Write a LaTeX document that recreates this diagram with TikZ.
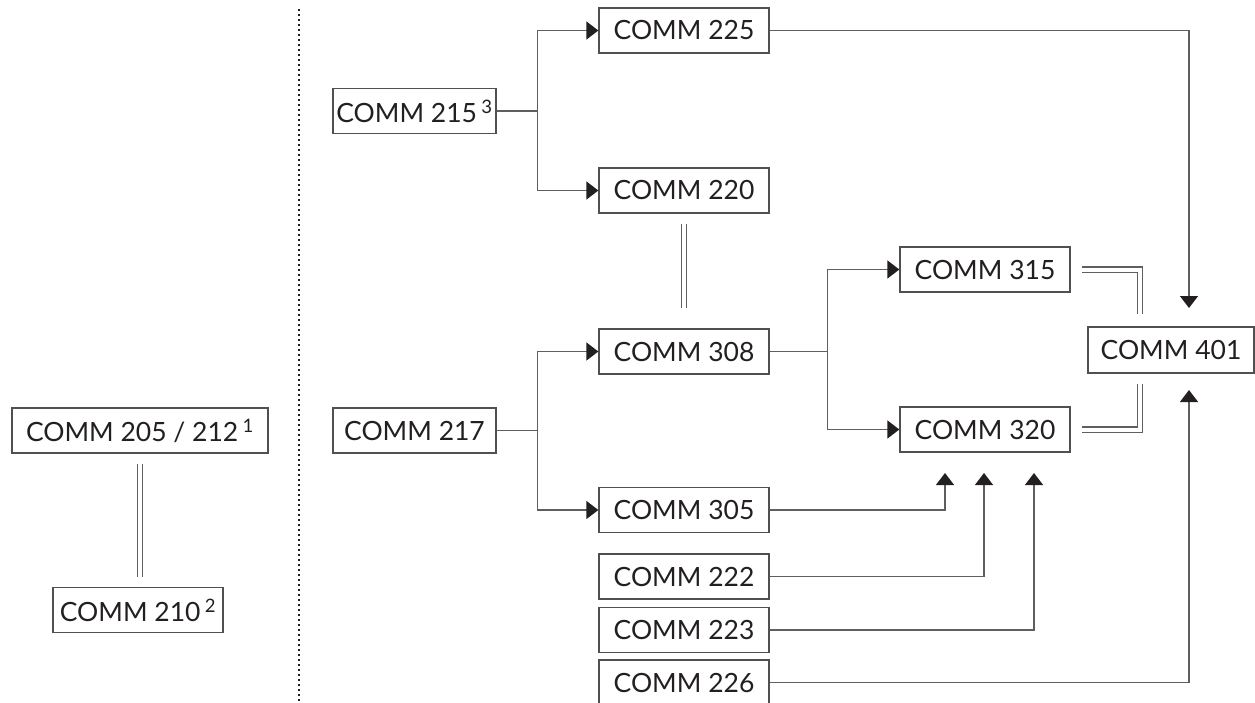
\documentclass[tikz,border=0pt]{standalone}
\usepackage{fontspec}
\setmainfont{Lato}
\usetikzlibrary{arrows.meta, positioning, calc}
\definecolor{boxgray}{RGB}{80,80,80}
\definecolor{linegray}{RGB}{95,95,95}
\definecolor{inkblack}{RGB}{35,31,32}

\begin{document}
\begin{tikzpicture}[x=1pt, y=-1pt,
    course/.style={draw=boxgray, line width=1.3pt, rectangle, minimum width=170pt,
      minimum height=45pt, inner sep=0pt, text=inkblack, font=\fontsize{26.5}{30}\selectfont},
    link/.style={draw=linegray, line width=1.3pt,
      -{Triangle[length=12pt, width=18pt, color=inkblack]}},
    twin/.style={draw=linegray, line width=1.1pt, double, double distance=4pt},
    divider/.style={draw=inkblack, line width=2.6pt, dash pattern=on 2.4pt off 2.6pt}]
  \useasboundingbox (0,0) rectangle (1255,702);
  \clip (0,0) rectangle (1255,702);

  % Left column
  \node[course, minimum width=256pt] (c205) at (140, 430.5) {COMM 205 / 212\,\textsuperscript{1}};
  \node[course] (c210) at (138, 610) {COMM 210\,\textsuperscript{2}};
  \draw[twin, shorten <=10pt, shorten >=10pt] (c205.south) -- (c205.south |- c210.north);

  % Divider
  \coordinate (divtop) at (299, 9);
  \coordinate (divbot) at (299, 702);
  \draw[divider] (divtop) -- (divbot);

  % Entry courses
  \node[course, minimum width=163pt] (c215) at (414.5, 111) {COMM 215\,\textsuperscript{3}};
  \node[course, minimum width=163pt] (c217) at (414.5, 430.5) {COMM 217};

  % Second column
  \node[course] (c225) at (684, 30.5) {COMM 225};
  \node[course] (c220) at (684, 190.5) {COMM 220};
  \node[course] (c308) at (684, 351.5) {COMM 308};
  \node[course] (c305) at (684, 510) {COMM 305};
  \node[course] (c222) at (684, 576.5) {COMM 222};
  \node[course] (c223) at (684, 630) {COMM 223};
  \node[course] (c226) at (684, 682.5) {COMM 226};

  % Third column
  \node[course] (c315) at (985, 269.5) {COMM 315};
  \node[course] (c320) at (985, 429.5) {COMM 320};
  \node[course, minimum width=166pt, minimum height=46pt] (c401) at (1171, 350) {COMM 401};

  % Branches
  \draw[link] (c215.east) -- ++(41,0) |- (c225);
  \draw[link] (c215.east) -- ++(41,0) |- (c220);
  \draw[link] (c217.east) -- ++(41,0) |- (c308);
  \draw[link] (c217.east) -- ++(41,0) |- (c305);
  \draw[link] (c308.east) -- ++(58,0) |- (c315);
  \draw[link] (c308.east) -- ++(58,0) |- (c320);
  \draw[twin, shorten <=10pt, shorten >=20pt] (c220.south) -- (c308.north);

  % Into COMM 320
  \coordinate (up320a) at (945, 473);
  \coordinate (up320b) at (984, 473);
  \coordinate (up320c) at (1034, 473);
  \draw[link] (c305) -| (up320a);
  \draw[link] (c222) -| (up320b);
  \draw[link] (c223) -| (up320c);

  % Into COMM 401
  \coordinate (up401) at (1189, 308);
  \coordinate (dn401) at (1189, 390);
  \coordinate (j401) at (1140, 350);
  \draw[link] (c225) -| (up401);
  \draw[link] (c226) -| (dn401);
  \draw[twin, shorten <=11pt, shorten >=12pt] (c315.east) -| (j401 |- c401.north);
  \draw[twin, shorten <=11pt, shorten >=10pt] (c320.east) -| (j401 |- c401.south);
\end{tikzpicture}
\end{document}
